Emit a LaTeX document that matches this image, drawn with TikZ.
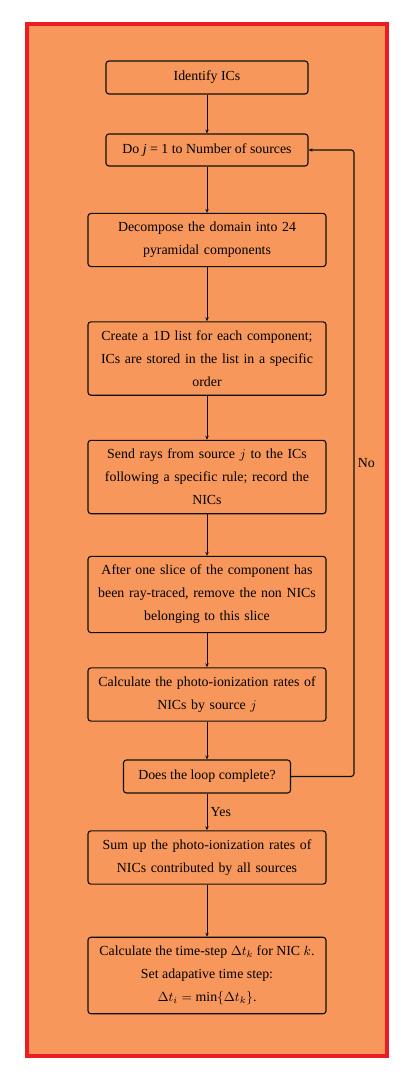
\documentclass[tikz,border=0pt]{standalone}
\usepackage{fontspec}
\setmainfont{Liberation Serif}
\usepackage{xcolor}
\usetikzlibrary{positioning,arrows.meta}
\definecolor{frame}{HTML}{EC1C24}
\definecolor{sheet}{HTML}{F7975B}
\definecolor{ink}{HTML}{101010}
\newcommand{\FlowTxt}{\fontsize{10.4}{17.2}\selectfont}
\tikzset{
  >={Stealth[length=3pt,width=2.6pt]},
  procbox/.style={rounded corners=2.2pt, draw=ink, line width=0.85pt, fill=sheet,
                  align=center, font=\FlowTxt, inner xsep=6.75pt, inner ysep=6.6pt},
  procwide/.style={procbox, text width=165pt},
  flow/.style={->, draw=ink, line width=0.6pt},
  lab/.style={inner sep=2.5pt, font=\FlowTxt},
}
\begin{document}
\begin{tikzpicture}[x=0.75pt,y=-0.75pt]
  \useasboundingbox (0,0) rectangle (415,1084);
  % sheet behind the chart
  \draw[frame, line width=3pt, fill=sheet] (27,24) rectangle (387,1056);
  \node[procbox, minimum width=151.5pt, minimum height=24.75pt] (ics) at (207,77.5) {Identify ICs};
  \node[procbox, minimum width=151.5pt, minimum height=24pt] (do) at (207,150) {Do \textit{j} = 1 to Number of sources};
  \node[procwide] (dec) at (207,240) {Decompose the domain into 24\\pyramidal components};
  \node[procwide] (list) at (207,358.5) {Create a 1D list for each component;\\ICs are stored in the list in a specific\\order};
  \node[procwide] (rays) at (207,477) {Send rays from source $j$ to the ICs\\following a specific rule; record the\\NICs};
  \node[procwide] (slice) at (207,594.5) {After one slice of the component has\\been ray-traced, remove the non NICs\\belonging to this slice};
  \node[procwide] (rate) at (207,694.5) {Calculate the photo-ionization rates of\\NICs by source $j$};
  \node[procbox, minimum width=125.25pt, minimum height=24.75pt] (loop) at (207,776.5) {Does the loop complete?};
  \node[procwide] (sum) at (207,857.5) {Sum up the photo-ionization rates of\\NICs contributed by all sources};
  \node[procbox, minimum width=178.5pt] (dt) at (207,975.5) {Calculate the time-step $\Delta t_k$ for NIC $k$.\\Set adapative time step:\\$\Delta t_i=\min\{\Delta t_k\}$.};
  \coordinate (rail) at (354,776.5);
  % main chain
  \draw[flow] (ics) -- (do);
  \draw[flow] (do) -- (dec);
  \draw[flow] (dec) -- (list);
  \draw[flow] (list) -- (rays);
  \draw[flow] (rays) -- (slice);
  \draw[flow] (slice) -- (rate);
  \draw[flow] (rate) -- (loop);
  \draw[flow] (loop) -- node[lab, right] {Yes} (sum);
  \draw[flow] (sum) -- (dt);
  % back to the loop head
  \draw[flow, line width=0.85pt, rounded corners=2.2pt] (loop.east) -- (rail) |- node[lab, right, pos=0.25] {No} (do.east);
\end{tikzpicture}
\end{document}
